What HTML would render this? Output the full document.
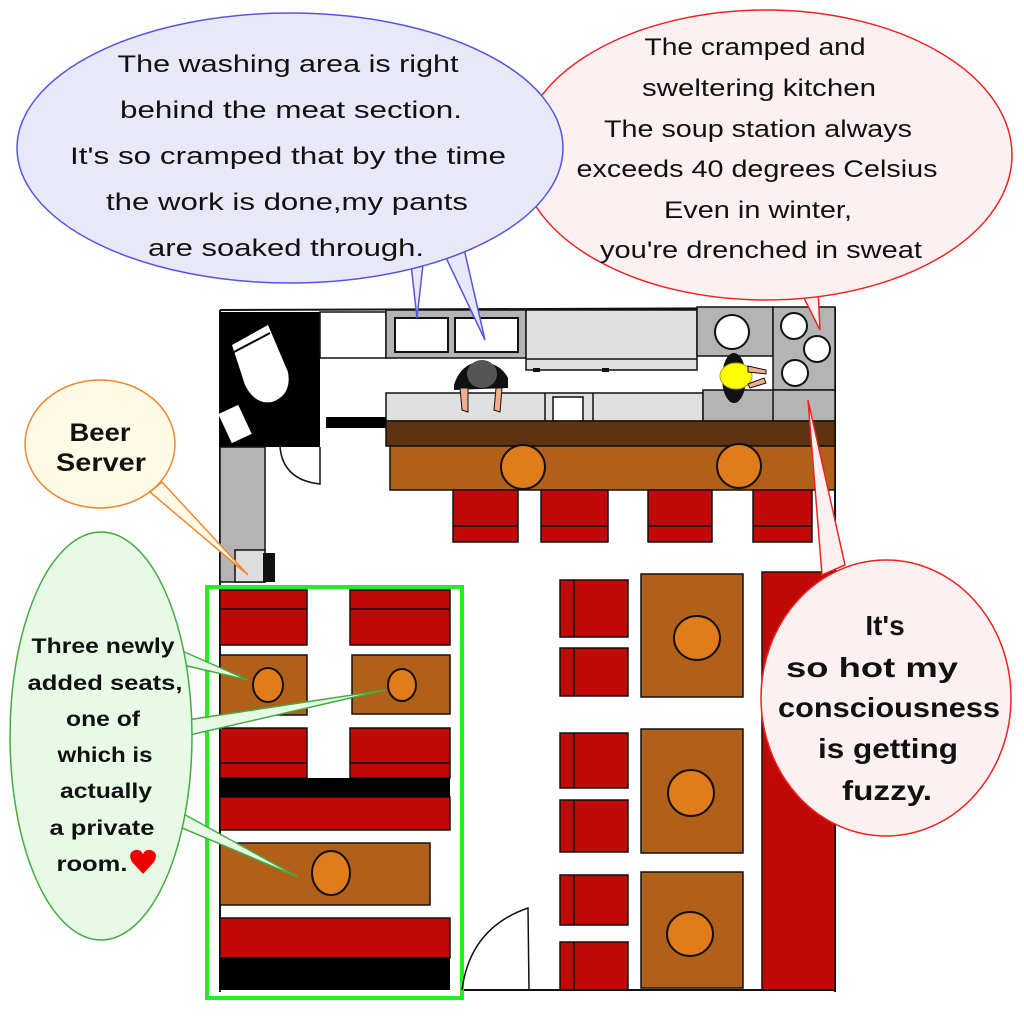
<!DOCTYPE html>
<html><head><meta charset="utf-8"><style>html,body{margin:0;padding:0;background:#fff}svg{display:block}text{font-family:"Liberation Sans",sans-serif;fill:#111}</style></head><body>
<svg width="1024" height="1024" viewBox="0 0 1024 1024" xmlns="http://www.w3.org/2000/svg">
<rect width="1024" height="1024" fill="#fff"/>
<g stroke="#111" stroke-width="2" fill="none">
<line x1="220" y1="310" x2="835" y2="308"/>
<line x1="220" y1="310" x2="220" y2="992"/>
<line x1="835" y1="308" x2="835" y2="992"/>
<line x1="460" y1="990" x2="835" y2="990"/>
</g>
<rect x="220" y="312" width="100" height="135" fill="#000"/>
<path d="M232 345 L268 325 L288 372 Q292 395 272 402 Q255 405 245 385 Z" fill="#fff"/>
<line x1="234" y1="352" x2="270" y2="333" stroke="#000" stroke-width="2"/>
<rect x="224" y="408" width="22" height="32" fill="#fff" transform="rotate(-25 235 424)"/>
<rect x="220" y="447" width="45" height="135" fill="#b4b4b4" stroke="#111" stroke-width="1.5"/>
<rect x="235" y="550" width="30" height="32" fill="#ddd" stroke="#111" stroke-width="1.5"/>
<rect x="263" y="553" width="12" height="29" fill="#111"/>
<path d="M280 447 Q283 480 320 484 L320 447" fill="none" stroke="#111" stroke-width="1.5"/>
<rect x="320" y="312" width="66" height="46" fill="#fff" stroke="#111" stroke-width="1.5"/>
<rect x="386" y="310" width="140" height="48" fill="#b4b4b4" stroke="#111" stroke-width="1.5"/>
<rect x="395" y="318" width="53" height="34" fill="#fff" stroke="#111" stroke-width="2"/>
<rect x="455" y="318" width="63" height="34" fill="#fff" stroke="#111" stroke-width="2"/>
<rect x="526" y="310" width="171" height="60" fill="#e0e0e0" stroke="#111" stroke-width="1.5"/>
<line x1="526" y1="359" x2="697" y2="359" stroke="#111" stroke-width="1.5"/>
<rect x="533" y="368" width="7" height="4" fill="#111"/><rect x="602" y="368" width="7" height="4" fill="#111"/>
<rect x="697" y="307" width="76" height="49" fill="#b4b4b4" stroke="#111" stroke-width="1.5"/>
<circle cx="732" cy="332" r="17" fill="#fff" stroke="#111" stroke-width="2"/>
<rect x="773" y="307" width="62" height="83" fill="#b4b4b4" stroke="#111" stroke-width="1.5"/>
<circle cx="794" cy="326" r="13" fill="#fff" stroke="#111" stroke-width="2"/>
<circle cx="817" cy="349" r="13" fill="#fff" stroke="#111" stroke-width="2"/>
<circle cx="795" cy="373" r="13" fill="#fff" stroke="#111" stroke-width="2"/>
<rect x="386" y="393" width="317" height="28" fill="#e0e0e0" stroke="#111" stroke-width="1.5"/>
<rect x="553" y="397" width="30" height="24" fill="#fff" stroke="#111" stroke-width="1.5"/>
<line x1="545" y1="393" x2="545" y2="421" stroke="#111" stroke-width="1.5"/>
<line x1="593" y1="393" x2="593" y2="421" stroke="#111" stroke-width="1.5"/>
<rect x="703" y="390" width="132" height="31" fill="#b4b4b4" stroke="#111" stroke-width="1.5"/>
<line x1="773" y1="390" x2="773" y2="421" stroke="#111" stroke-width="1.5"/>
<rect x="326" y="417" width="60" height="11" fill="#000"/>
<path d="M454 385 Q460 365 478 362 Q500 362 508 378 L508 388 L454 390 Z" fill="#111"/>
<ellipse cx="482" cy="374" rx="15" ry="14" fill="#555"/>
<path d="M460 388 L462 410 L468 412 L468 388 Z M496 388 L494 410 L500 412 L502 388 Z" fill="#f0b090" stroke="#111" stroke-width="1"/>
<ellipse cx="734" cy="378" rx="12" ry="25" fill="#111"/>
<ellipse cx="736" cy="376" rx="16" ry="13" fill="#ff0" stroke="#aa0" stroke-width="1"/>
<path d="M748 366 L766 370 L766 374 L748 372 Z M748 384 L764 378 L766 383 L750 388 Z" fill="#f0b090" stroke="#111" stroke-width="1"/>
<rect x="386" y="421" width="449" height="25" fill="#5e3410" stroke="#111" stroke-width="1.5"/>
<rect x="390" y="446" width="445" height="44" fill="#b06018" stroke="#111" stroke-width="1.5"/>
<circle cx="523" cy="467" r="22" fill="#e07c1c" stroke="#111" stroke-width="2"/>
<circle cx="739" cy="466" r="22" fill="#e07c1c" stroke="#111" stroke-width="2"/>
<g fill="#c00a0a" stroke="#111" stroke-width="1.5">
<rect x="453" y="490" width="65" height="52"/><rect x="541" y="490" width="67" height="52"/>
<rect x="648" y="490" width="64" height="52"/><rect x="753" y="490" width="59" height="52"/>
</g>
<g stroke="#111" stroke-width="1.5"><line x1="453" y1="526" x2="518" y2="526"/><line x1="541" y1="526" x2="608" y2="526"/><line x1="648" y1="526" x2="712" y2="526"/><line x1="753" y1="526" x2="812" y2="526"/></g>
<g fill="#c00a0a" stroke="#111" stroke-width="1.5">
<rect x="220" y="590" width="87" height="55"/><rect x="350" y="590" width="100" height="55"/>
<rect x="220" y="728" width="87" height="50"/><rect x="350" y="728" width="100" height="50"/>
<rect x="220" y="797" width="230" height="33"/>
<rect x="220" y="918" width="230" height="40"/>
</g>
<g stroke="#111" stroke-width="1.5"><line x1="220" y1="609" x2="307" y2="609"/><line x1="350" y1="609" x2="450" y2="609"/><line x1="220" y1="763" x2="307" y2="763"/><line x1="350" y1="763" x2="450" y2="763"/></g>
<rect x="220" y="778" width="230" height="19" fill="#000"/>
<rect x="220" y="958" width="230" height="32" fill="#000"/>
<g fill="#b06018" stroke="#111" stroke-width="1.5">
<rect x="220" y="655" width="87" height="60"/><rect x="352" y="655" width="98" height="59"/>
<rect x="220" y="843" width="210" height="62"/>
</g>
<g fill="#e07c1c" stroke="#111" stroke-width="2">
<ellipse cx="268" cy="685" rx="15" ry="17"/><ellipse cx="402" cy="685" rx="14" ry="16"/><ellipse cx="331" cy="873" rx="19" ry="22"/>
</g>
<rect x="207" y="587" width="255" height="411" fill="none" stroke="#22ee22" stroke-width="4"/>
<path d="M462 990 Q470 928 528 908 L529 990" fill="none" stroke="#111" stroke-width="1.5"/>
<g fill="#c00a0a" stroke="#111" stroke-width="1.5">
<rect x="560" y="580" width="68" height="57"/><rect x="560" y="648" width="68" height="48"/>
<rect x="560" y="733" width="68" height="55"/><rect x="560" y="800" width="68" height="52"/>
<rect x="560" y="875" width="68" height="50"/><rect x="560" y="942" width="68" height="48"/>
<rect x="762" y="572" width="73" height="418"/>
</g>
<g stroke="#111" stroke-width="1.5"><line x1="574" y1="580" x2="574" y2="637"/><line x1="574" y1="648" x2="574" y2="696"/><line x1="574" y1="733" x2="574" y2="788"/><line x1="574" y1="800" x2="574" y2="852"/><line x1="574" y1="875" x2="574" y2="925"/><line x1="574" y1="942" x2="574" y2="990"/></g>
<g fill="#b06018" stroke="#111" stroke-width="1.5">
<rect x="641" y="574" width="102" height="123"/><rect x="641" y="729" width="102" height="124"/><rect x="641" y="872" width="102" height="116"/>
</g>
<g fill="#e07c1c" stroke="#111" stroke-width="2">
<ellipse cx="697" cy="638" rx="23" ry="22"/><ellipse cx="691" cy="793" rx="23" ry="23"/><ellipse cx="690" cy="934" rx="23" ry="22"/>
</g>
<path d="M800 290 L820 330 L818 288 Z" fill="#fdf0f0" stroke="#ee2222" stroke-width="1.5"/>
<ellipse cx="766" cy="155" rx="246" ry="145" fill="#fdf0f0" stroke="#ee2222" stroke-width="1.5"/>
<path d="M410 255 L417 318 L424 255 Z M440 245 L485 340 L462 240 Z" fill="#e8e8f8" stroke="#5555dd" stroke-width="1.5"/>
<ellipse cx="290" cy="148" rx="273" ry="135" fill="#e8e8f8" stroke="#5555dd" stroke-width="1.5"/>
<path d="M150 492 L248 575 L162 482 Z" fill="#fdfbe6" stroke="#ee8833" stroke-width="1.5"/>
<ellipse cx="100" cy="444" rx="75" ry="64" fill="#fdfbe6" stroke="#ee8833" stroke-width="1.5"/>
<path d="M180 650 L248 680 L183 665 Z M187 720 L385 690 L190 735 Z M180 812 L298 877 L175 825 Z" fill="#e6fae6" stroke="#44aa44" stroke-width="1.5"/>
<ellipse cx="101" cy="736" rx="91" ry="204" fill="#e6fae6" stroke="#44aa44" stroke-width="1.5"/>
<path d="M808 400 L845 565 L822 575 Z" fill="#fdf0f0" stroke="#ee2222" stroke-width="1.5"/>
<ellipse cx="886" cy="698" rx="125" ry="138" fill="#fdf0f0" stroke="#ee2222" stroke-width="1.5"/>
<g font-size="24" text-anchor="middle">
<text x="288" y="72" textLength="341" lengthAdjust="spacingAndGlyphs">The washing area is right</text>
<text x="291" y="118" textLength="342" lengthAdjust="spacingAndGlyphs">behind the meat section.</text>
<text x="288" y="164" textLength="436" lengthAdjust="spacingAndGlyphs">It's so cramped that by the time</text>
<text x="287" y="210" textLength="362" lengthAdjust="spacingAndGlyphs">the work is done,my pants</text>
<text x="286" y="256" textLength="276" lengthAdjust="spacingAndGlyphs">are soaked through.</text>
<text x="755" y="55" textLength="221" lengthAdjust="spacingAndGlyphs">The cramped and</text>
<text x="759" y="96" textLength="234" lengthAdjust="spacingAndGlyphs">sweltering kitchen</text>
<text x="758" y="137" textLength="308" lengthAdjust="spacingAndGlyphs">The soup station always</text>
<text x="757" y="177" textLength="361" lengthAdjust="spacingAndGlyphs">exceeds 40 degrees Celsius</text>
<text x="758" y="218" textLength="188" lengthAdjust="spacingAndGlyphs">Even in winter,</text>
<text x="761" y="258" textLength="322" lengthAdjust="spacingAndGlyphs">you're drenched in sweat</text>
</g>
<g font-size="25" text-anchor="middle" font-weight="bold">
<text x="100" y="441" textLength="61" lengthAdjust="spacingAndGlyphs">Beer</text>
<text x="101" y="471" textLength="90" lengthAdjust="spacingAndGlyphs">Server</text>
</g>
<g font-size="21" text-anchor="middle" font-weight="bold">
<text x="103" y="653" textLength="143" lengthAdjust="spacingAndGlyphs">Three newly</text>
<text x="105" y="690" textLength="155" lengthAdjust="spacingAndGlyphs">added seats,</text>
<text x="103" y="726" textLength="74" lengthAdjust="spacingAndGlyphs">one of</text>
<text x="105" y="762" textLength="95" lengthAdjust="spacingAndGlyphs">which is</text>
<text x="106" y="798" textLength="92" lengthAdjust="spacingAndGlyphs">actually</text>
<text x="102" y="835" textLength="105" lengthAdjust="spacingAndGlyphs">a private</text>
<text x="92" y="871" textLength="71" lengthAdjust="spacingAndGlyphs">room.</text>
</g>
<path d="M143 874 L132 862 Q127 853 135 850 Q141 849 143 854 Q145 849 151 850 Q159 853 154 862 Z" fill="#ee0000"/>
<g font-size="28" text-anchor="middle" font-weight="bold">
<text x="885" y="635">It's</text>
<text x="872" y="677" textLength="172" lengthAdjust="spacingAndGlyphs">so hot my</text>
<text x="889" y="717" textLength="222" lengthAdjust="spacingAndGlyphs">consciousness</text>
<text x="888" y="758" textLength="140" lengthAdjust="spacingAndGlyphs">is getting</text>
<text x="887" y="800" textLength="90" lengthAdjust="spacingAndGlyphs">fuzzy.</text>
</g>
</svg>
</body></html>
